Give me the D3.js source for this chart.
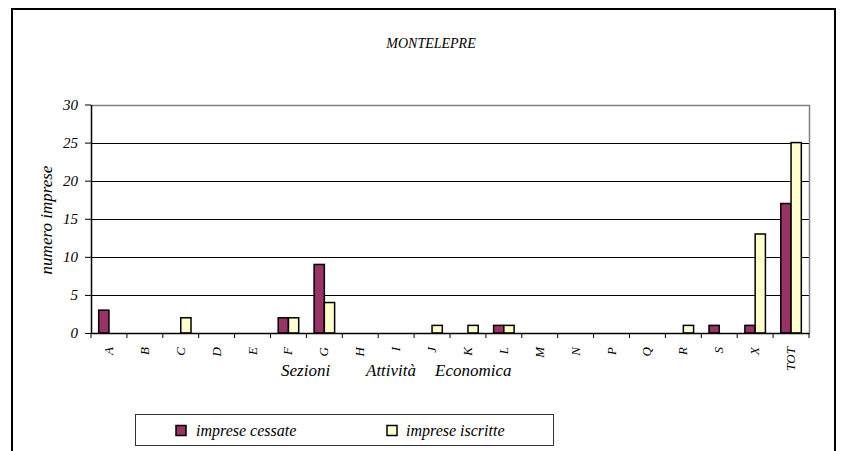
<!DOCTYPE html>
<html>
<head>
<meta charset="utf-8">
<script src="https://cdn.jsdelivr.net/npm/d3@7/dist/d3.min.js"></script>
</head>
<body style="margin:0; background:#fff">
<svg id="chart" width="841" height="451" font-family="Liberation Serif" font-style="italic"></svg>
<script>
// ---- data ----
const categories = ["A","B","C","D","E","F","G","H","I","J","K","L","M","N","P","Q","R","S","X","TOT"];
const cessate    = [3,0,0,0,0,2,9,0,0,0,0,1,0,0,0,0,0,1,1,17];
const iscritte   = [0,0,2,0,0,2,4,0,0,1,1,1,0,0,0,0,1,0,13,25];
const seriesNames = ["imprese cessate", "imprese iscritte"];
const seriesColors = ["#993366", "#FFFFCC"];
const yTicks = [0,5,10,15,20,25,30];
const chartTitle = "MONTELEPRE";
const yTitle = "numero imprese";
const xTitleWords = ["Sezioni", "Attività", "Economica"];

// ---- layout ----
const FONT = "Liberation Serif";
const svg = d3.select("#chart");
const plot = { left: 91, right: 809, top: 104.5, bottom: 333 };

svg.append("path")
  .attr("d", "M12,451 L12,9 L835,9 L835,451")
  .attr("fill", "none").attr("stroke", "#000").attr("stroke-width", 2);

const x = d3.scaleBand().domain(categories).range([plot.left, plot.right]).paddingInner(0).paddingOuter(0);
const bw = x.bandwidth();
const x1 = d3.scaleBand().domain([0,1]).range([bw * 0.75/3.5, bw * (0.75+2)/3.5]).padding(0);
const y = d3.scaleLinear().domain([0, 30]).range([plot.bottom, plot.top]);

svg.append("g").selectAll("line").data(yTicks.filter(t => t > 0 && t < 30)).join("line")
  .attr("x1", plot.left).attr("x2", plot.right)
  .attr("y1", d => Math.round(y(d)) + 0.5).attr("y2", d => Math.round(y(d)) + 0.5)
  .attr("stroke", "#000").attr("stroke-width", 1);

svg.append("path")
  .attr("d", `M${plot.left},${Math.round(plot.top)+0.5} L${plot.right+0.5},${Math.round(plot.top)+0.5} L${plot.right+0.5},${plot.bottom}`)
  .attr("fill", "none").attr("stroke", "#808080").attr("stroke-width", 1.5);

const rows = categories.map((c, i) => ({ c, vals: [cessate[i], iscritte[i]] }));
const gBars = svg.append("g");
rows.forEach(r => {
  r.vals.forEach((v, s) => {
    if (v <= 0) return;
    gBars.append("rect")
      .attr("x", x(r.c) + x1(s))
      .attr("y", y(v))
      .attr("width", x1.bandwidth())
      .attr("height", y(0) - y(v))
      .attr("fill", seriesColors[s])
      .attr("stroke", "#000").attr("stroke-width", 1.5);
  });
});

const yAxis = svg.append("g")
  .attr("transform", `translate(${plot.left},0)`)
  .call(d3.axisLeft(y).tickValues(yTicks).tickSize(6).tickPadding(7).tickSizeOuter(0));
yAxis.attr("font-family", FONT).attr("font-size", 15);
yAxis.select(".domain").attr("stroke", "#000").attr("stroke-width", 1.5);
yAxis.selectAll(".tick line").attr("stroke", "#000");
yAxis.selectAll(".tick text").attr("font-family", FONT).attr("font-style", "italic").attr("font-size", 15).attr("fill", "#000");

const xAxis = svg.append("g")
  .attr("transform", `translate(0,${plot.bottom})`)
  .call(d3.axisBottom(x).tickSize(0).tickSizeOuter(0));
xAxis.attr("font-family", FONT).attr("font-size", 13);
xAxis.select(".domain").attr("stroke", "#000").attr("stroke-width", 1.5);
svg.append("g").selectAll("line").data(categories.concat(["__end"])).join("line")
  .attr("x1", (d, i) => plot.left + i * bw).attr("x2", (d, i) => plot.left + i * bw)
  .attr("y1", plot.bottom).attr("y2", plot.bottom + 5)
  .attr("stroke", "#000").attr("stroke-width", 1);
xAxis.selectAll(".tick text")
  .attr("font-family", FONT).attr("font-style", "italic")
  .attr("font-size", 13).attr("fill", "#000")
  .attr("text-anchor", "end")
  .attr("dy", null)
  .attr("transform", "translate(4,14) rotate(-90)")
  .attr("x", 0).attr("y", 0);

svg.append("text").attr("x", 431).attr("y", 48).attr("text-anchor", "middle")
  .attr("font-family", FONT).attr("font-style", "italic")
  .attr("font-size", 14).text(chartTitle);

svg.append("text")
  .attr("transform", "translate(52,220) rotate(-90)")
  .attr("font-family", FONT).attr("font-style", "italic")
  .attr("text-anchor", "middle").attr("font-size", 17).text(yTitle);

const xTitleX = [281, 366, 435];
svg.append("g").selectAll("text").data(xTitleWords).join("text")
  .attr("x", (d, i) => xTitleX[i]).attr("y", 376)
  .attr("font-family", FONT).attr("font-style", "italic")
  .attr("font-size", 17).text(d => d);

const leg = svg.append("g");
leg.append("rect").attr("x", 135.5).attr("y", 414.5).attr("width", 418).attr("height", 31)
  .attr("fill", "#fff").attr("stroke", "#333").attr("stroke-width", 1);
const legItems = [{ sx: 176, tx: 196 }, { sx: 387, tx: 406 }];
legItems.forEach((it, i) => {
  leg.append("rect").attr("x", it.sx).attr("y", 425.5).attr("width", 10).attr("height", 10)
    .attr("fill", seriesColors[i]).attr("stroke", "#000").attr("stroke-width", 1.5);
  leg.append("text").attr("x", it.tx).attr("y", 436)
    .attr("font-family", FONT).attr("font-style", "italic")
    .attr("font-size", 16).text(seriesNames[i]);
});
</script>
</body>
</html>
